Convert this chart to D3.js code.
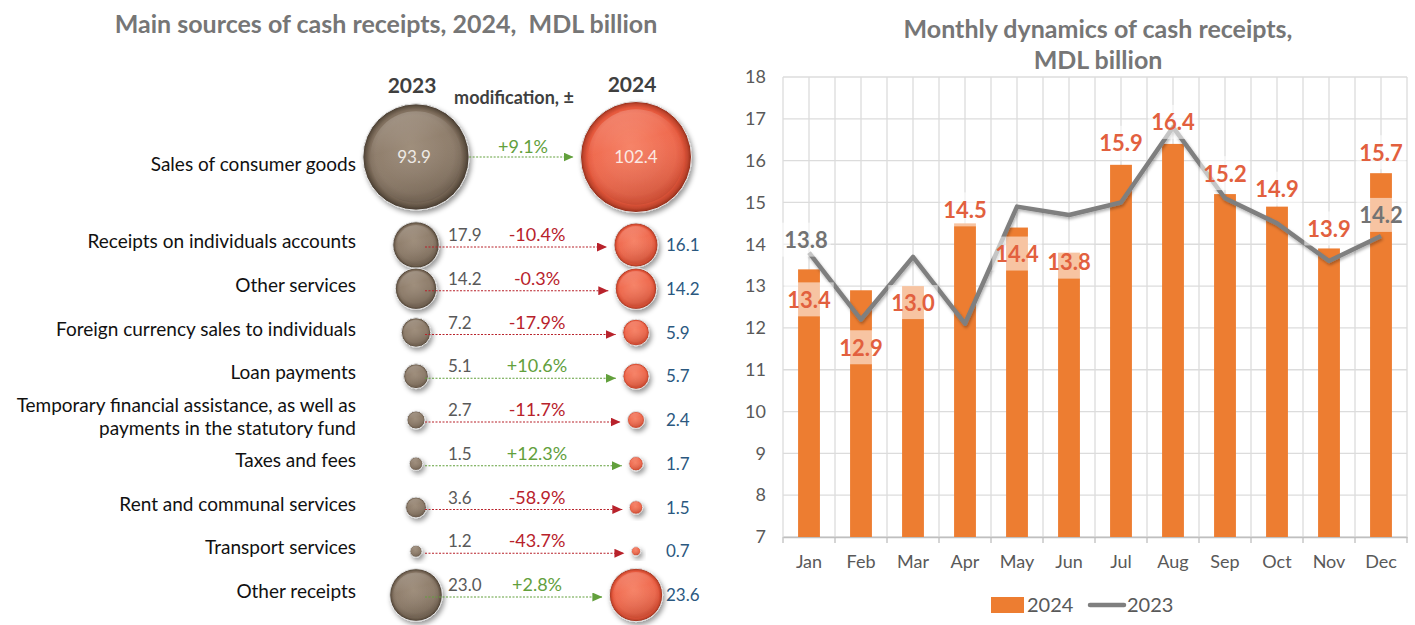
<!DOCTYPE html>
<html>
<head>
<meta charset="utf-8">
<script src="https://cdn.jsdelivr.net/npm/d3@7"></script>
<style>
  body { margin: 0; background: #fff; }
  svg { display: block; font-family: Lato, "Open Sans", sans-serif; }
</style>
</head>
<body>
<svg id="chart" width="1415" height="625"></svg>
<script>
// ---- data: left panel (sources of cash receipts, MDL billion) ----
var sources = [
  "Sales of consumer goods",
  "Receipts on individuals accounts",
  "Other services",
  "Foreign currency sales to individuals",
  "Loan payments",
  "Temporary financial assistance, as well as\npayments in the statutory fund",
  "Taxes and fees",
  "Rent and communal services",
  "Transport services",
  "Other receipts"
];
var value2023 = [93.9, 17.9, 14.2, 7.2, 5.1, 2.7, 1.5, 3.6, 1.2, 23.0];
var value2024 = [102.4, 16.1, 14.2, 5.9, 5.7, 2.4, 1.7, 1.5, 0.7, 23.6];
var changePct = [9.1, -10.4, -0.3, -17.9, 10.6, -11.7, 12.3, -58.9, -43.7, 2.8];

// ---- data: right panel (monthly dynamics, MDL billion) ----
var months = ["Jan", "Feb", "Mar", "Apr", "May", "Jun", "Jul", "Aug", "Sep", "Oct", "Nov", "Dec"];
var monthly2024 = [13.4, 12.9, 13.0, 14.5, 14.4, 13.8, 15.9, 16.4, 15.2, 14.9, 13.9, 15.7];
var monthly2023 = [13.8, 12.2, 13.7, 12.1, 14.9, 14.7, 15.0, 16.8, 15.1, 14.5, 13.6, 14.2];
var labelled2023 = ["Jan", "Dec"];
var yTicks = [7, 8, 9, 10, 11, 12, 13, 14, 15, 16, 17, 18];

// label nudges (px from the mark), layout only
var barLabelDy = [30, 57, 16, -14, 26, 9, -22, -22, -21, -18, -20, -21];
var lineLabelDy = { "Jan": -13, "Dec": -21 };

var svg = d3.select("#chart");
var defs = svg.append("defs");

// 3d-ish bubble gradients
function bubbleGradient(id, stops) {
  var g = defs.append("radialGradient").attr("id", id)
    .attr("cx", "50%").attr("cy", "50%").attr("r", "50%")
    .attr("fx", "45%").attr("fy", "40%");
  stops.forEach(function (s) {
    g.append("stop").attr("offset", s[0]).attr("stop-color", s[1]);
  });
}
bubbleGradient("brownGrad", [["0%", "#9c8b78"], ["74%", "#8c7a68"], ["86%", "#7f6e5d"], ["94%", "#615344"], ["100%", "#43382d"]]);
bubbleGradient("redGrad", [["0%", "#f68064"], ["74%", "#ef674b"], ["86%", "#e5583c"], ["94%", "#c1452d"], ["100%", "#8e2c19"]]);

var shine = defs.append("linearGradient").attr("id", "shine")
  .attr("x1", "0").attr("y1", "0").attr("x2", "0.3").attr("y2", "1");
shine.append("stop").attr("offset", "0%").attr("stop-color", "#fff").attr("stop-opacity", 0.25);
shine.append("stop").attr("offset", "45%").attr("stop-color", "#fff").attr("stop-opacity", 0.03);
shine.append("stop").attr("offset", "100%").attr("stop-color", "#000").attr("stop-opacity", 0.1);

var shadow = defs.append("filter").attr("id", "shadow")
  .attr("x", "-50%").attr("y", "-50%").attr("width", "200%").attr("height", "200%");
shadow.append("feDropShadow").attr("dx", 2).attr("dy", 3).attr("stdDeviation", 2.5)
  .attr("flood-color", "#000").attr("flood-opacity", 0.4);

var lineShadow = defs.append("filter").attr("id", "lineShadow")
  .attr("x", "-10%").attr("y", "-10%").attr("width", "120%").attr("height", "130%");
lineShadow.append("feDropShadow").attr("dx", 1).attr("dy", 2).attr("stdDeviation", 1.5)
  .attr("flood-color", "#000").attr("flood-opacity", 0.3);

var upColor = "#62a03c", downColor = "#b8222b";

function arrowMarker(id, color) {
  defs.append("marker").attr("id", id)
    .attr("markerUnits", "userSpaceOnUse")
    .attr("markerWidth", 11).attr("markerHeight", 9)
    .attr("refX", 10).attr("refY", 4.5).attr("orient", "auto")
    .append("path").attr("d", "M0,0 L10,4.5 L0,9 Z").attr("fill", color);
}
arrowMarker("arrowUp", upColor);
arrowMarker("arrowDown", downColor);

// ================= LEFT PANEL =================
var left = svg.append("g");

left.append("text")
  .attr("x", 386).attr("y", 33)
  .attr("text-anchor", "middle")
  .attr("font-size", 25).attr("font-weight", "bold").attr("fill", "#767676")
  .text("Main sources of cash receipts, 2024,\u00a0 MDL billion");

var x2023 = 416, x2024 = 636;

left.append("text").attr("x", 412).attr("y", 93).attr("text-anchor", "middle")
  .attr("font-size", 21).attr("font-weight", "bold").attr("fill", "#3f3f3f").text("2023");
left.append("text").attr("x", 632).attr("y", 92).attr("text-anchor", "middle")
  .attr("font-size", 21).attr("font-weight", "bold").attr("fill", "#3f3f3f").text("2024");
left.append("text").attr("x", 514).attr("y", 104).attr("text-anchor", "middle")
  .attr("font-size", 18).attr("font-weight", "bold").attr("fill", "#3f3f3f").text("modification, \u00b1");

var rScale = d3.scaleSqrt().domain([0, d3.max(value2024)]).range([0, 55.5]);
var rowScale = d3.scaleLinear().domain([1, sources.length - 1]).range([245, 595]);
function rowY(i) { return i === 0 ? 157 : rowScale(i); }

var rows = left.selectAll("g.row")
  .data(sources.map(function (s, i) {
    return { name: s, v23: value2023[i], v24: value2024[i], pct: changePct[i], i: i };
  }))
  .enter().append("g").attr("class", "row")
  .attr("transform", function (d) { return "translate(0," + rowY(d.i) + ")"; });

// category names
rows.append("text")
  .attr("x", 356)
  .attr("y", function (d) { return d.i === 0 ? 8 : -3; })
  .attr("text-anchor", "end")
  .attr("font-size", 19).attr("fill", "#111")
  .each(function (d) {
    var lines = d.name.split("\n");
    var t = d3.select(this);
    lines.forEach(function (ln, k) {
      t.append("tspan").attr("x", 356)
        .attr("dy", k === 0 ? ((-(lines.length - 1) * 23 / 2) + 6) + "px" : "23px")
        .text(ln);
    });
  });

// bubbles
function drawBubble(sel, cx, rAcc, fill) {
  sel.append("circle").attr("cx", cx).attr("cy", 0).attr("r", rAcc)
    .attr("fill", fill).attr("stroke", "#e4e4e4").attr("stroke-width", 1)
    .attr("filter", "url(#shadow)");
  sel.append("circle").attr("cx", cx).attr("cy", 0)
    .attr("r", function (d) { return rAcc(d) * 0.86; })
    .attr("fill", "url(#shine)");
}
drawBubble(rows, x2023, function (d) { return rScale(d.v23); }, "url(#brownGrad)");
drawBubble(rows, x2024, function (d) { return rScale(d.v24); }, "url(#redGrad)");

// arrows
rows.append("line")
  .attr("x1", function (d) { var r = rScale(d.v23); return x2023 + (r > 40 ? r : 9); })
  .attr("x2", function (d) { return x2024 - rScale(d.v24) - 7; })
  .attr("y1", function (d) { return d.i === 0 ? 0 : 2; })
  .attr("y2", function (d) { return d.i === 0 ? 0 : 2; })
  .attr("stroke", function (d) { return d.pct >= 0 ? upColor : downColor; })
  .attr("stroke-width", 1.2)
  .attr("stroke-dasharray", "2,1.5")
  .attr("marker-end", function (d) { return d.pct >= 0 ? "url(#arrowUp)" : "url(#arrowDown)"; });

// percent change labels
rows.append("text")
  .attr("x", function (d) { return d.i === 0 ? 523 : 537; })
  .attr("y", -4)
  .attr("text-anchor", "middle")
  .attr("font-size", 18)
  .attr("fill", function (d) { return d.pct >= 0 ? upColor : downColor; })
  .text(function (d) { return (d.pct >= 0 ? "+" : "") + d.pct.toFixed(1) + "%"; });

// 2023 values
rows.append("text")
  .attr("x", function (d) { return d.i === 0 ? x2023 - 2 : 448; })
  .attr("y", function (d) { return d.i === 0 ? 6 : -4; })
  .attr("text-anchor", function (d) { return d.i === 0 ? "middle" : "start"; })
  .attr("font-size", 17)
  .attr("fill", function (d) { return d.i === 0 ? "#eeeae6" : "#595959"; })
  .text(function (d) { return d.v23.toFixed(1); });

// 2024 values
rows.append("text")
  .attr("x", function (d) { return d.i === 0 ? x2024 : 666; })
  .attr("y", 6)
  .attr("text-anchor", function (d) { return d.i === 0 ? "middle" : "start"; })
  .attr("font-size", 17)
  .attr("fill", function (d) { return d.i === 0 ? "#fbe9e3" : "#2b587f"; })
  .text(function (d) { return d.v24.toFixed(1); });

// ================= RIGHT PANEL =================
var right = svg.append("g");

right.append("text").attr("x", 1098).attr("y", 38).attr("text-anchor", "middle")
  .attr("font-size", 25).attr("font-weight", "bold").attr("fill", "#767676")
  .text("Monthly dynamics of cash receipts,");
right.append("text").attr("x", 1098).attr("y", 69).attr("text-anchor", "middle")
  .attr("font-size", 25).attr("font-weight", "bold").attr("fill", "#767676")
  .text("MDL billion");

var x = d3.scaleBand().domain(months).range([783, 1407]);
var y = d3.scaleLinear().domain([7, 18]).range([537, 77]);
var half = x.step() / 2;

// grid
right.append("g").selectAll("line.h").data(yTicks).enter().append("line")
  .attr("x1", 783).attr("x2", 1407)
  .attr("y1", function (d) { return y(d); }).attr("y2", function (d) { return y(d); })
  .attr("stroke", "#dcdcdc").attr("stroke-width", 1.3);
right.append("g").selectAll("line.v").data(d3.range(0, months.length * 2 + 1)).enter().append("line")
  .attr("x1", function (k) { return 783 + k * half; }).attr("x2", function (k) { return 783 + k * half; })
  .attr("y1", y(18)).attr("y2", y(7))
  .attr("stroke", "#dcdcdc").attr("stroke-width", 1.3);

// y axis
var yAxis = right.append("g").attr("transform", "translate(783,0)")
  .call(d3.axisLeft(y).tickValues(yTicks).tickSize(0).tickPadding(17));
yAxis.select(".domain").remove();
yAxis.selectAll("text").attr("font-size", 18).attr("fill", "#595959")
  .attr("font-family", "Lato, 'Open Sans', sans-serif");

// x axis
var xAxis = right.append("g").attr("transform", "translate(0," + y(7) + ")")
  .call(d3.axisBottom(x).tickSize(0).tickPadding(18));
xAxis.select(".domain").attr("stroke", "#bfbfbf").attr("stroke-width", 1.3);
xAxis.selectAll("text").attr("font-size", 18).attr("fill", "#595959")
  .attr("font-family", "Lato, 'Open Sans', sans-serif");
right.append("g").selectAll("line.tk").data(d3.range(0, months.length + 1)).enter().append("line")
  .attr("x1", function (k) { return 783 + k * x.step(); }).attr("x2", function (k) { return 783 + k * x.step(); })
  .attr("y1", y(7)).attr("y2", y(7) + 6)
  .attr("stroke", "#bfbfbf").attr("stroke-width", 1.3);

// bars
var barW = x.bandwidth() * 0.42;
right.append("g").selectAll("rect").data(monthly2024).enter().append("rect")
  .attr("x", function (d, i) { return x(months[i]) + (x.bandwidth() - barW) / 2; })
  .attr("y", function (d) { return y(d); })
  .attr("width", barW)
  .attr("height", function (d) { return y(7) - y(d); })
  .attr("fill", "#ed7d31");

// 2023 line
var line = d3.line()
  .x(function (d, i) { return x(months[i]) + x.bandwidth() / 2; })
  .y(function (d) { return y(d); });
right.append("path").datum(monthly2023)
  .attr("d", line)
  .attr("fill", "none").attr("stroke", "#7f7f7f").attr("stroke-width", 4.5)
  .attr("stroke-linejoin", "round")
  .attr("filter", "url(#lineShadow)");

// value labels with translucent boxes
function addLabel(g, cx, cy, txt, color) {
  var box = g.append("rect").attr("fill", "#fff").attr("fill-opacity", 0.55);
  var t = g.append("text").attr("x", cx).attr("y", cy)
    .attr("text-anchor", "middle").attr("dominant-baseline", "central")
    .attr("font-size", 22).attr("font-weight", "bold").attr("fill", color)
    .text(txt);
  var w = t.node().getComputedTextLength();
  box.attr("x", cx - w / 2 - 3).attr("y", cy - 17).attr("width", w + 6).attr("height", 34);
}
var labels = right.append("g");
monthly2024.forEach(function (v, i) {
  addLabel(labels, x(months[i]) + x.bandwidth() / 2, y(v) + barLabelDy[i], v.toFixed(1), "#e2603e");
});
labelled2023.forEach(function (m) {
  var i = months.indexOf(m);
  addLabel(labels, x(m) + x.bandwidth() / 2 + (m === "Jan" ? -3 : 0), y(monthly2023[i]) + lineLabelDy[m],
    monthly2023[i].toFixed(1), "#737373");
});

// legend
var legend = right.append("g");
legend.append("rect").attr("x", 991).attr("y", 597).attr("width", 33).attr("height", 16).attr("fill", "#ed7d31");
legend.append("text").attr("x", 1027).attr("y", 612).attr("font-size", 20).attr("fill", "#595959").text("2024");
legend.append("line").attr("x1", 1090).attr("x2", 1124).attr("y1", 605).attr("y2", 605)
  .attr("stroke", "#7f7f7f").attr("stroke-width", 4.5).attr("stroke-linecap", "round");
legend.append("text").attr("x", 1127).attr("y", 612).attr("font-size", 20).attr("fill", "#595959").text("2023");
</script>
</body>
</html>
